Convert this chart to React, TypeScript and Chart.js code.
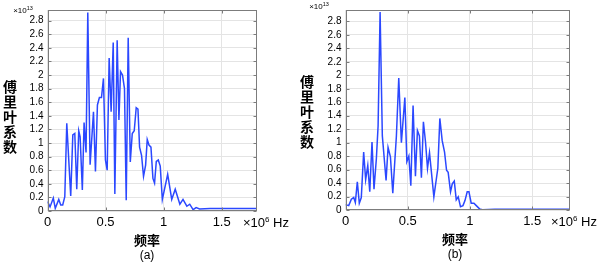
import React, { useEffect, useRef } from "react";
import Chart from "chart.js/auto";

// ---------- data ----------
const freqA = [0, 0.022, 0.05, 0.067, 0.097, 0.114, 0.131, 0.149, 0.166, 0.2, 0.218, 0.235, 0.252, 0.269, 0.281, 0.3, 0.315, 0.332, 0.347, 0.367, 0.396, 0.413, 0.43, 0.447, 0.465, 0.482, 0.499, 0.514, 0.531, 0.548, 0.566, 0.58, 0.6, 0.615, 0.629, 0.646, 0.663, 0.678, 0.695, 0.713, 0.73, 0.747, 0.764, 0.779, 0.793, 0.81, 0.827, 0.845, 0.859, 0.874, 0.891, 0.908, 0.922, 0.937, 0.954, 0.971, 0.989, 1.035, 1.07, 1.1, 1.14, 1.167, 1.2, 1.225, 1.254, 1.28, 1.31, 1.4, 1.8];
const coefA = [0.14, 0.06, 0.19, 0.04, 0.17, 0.09, 0.09, 0.21, 1.29, 0.22, 1.12, 1.14, 0.32, 1.18, 1.09, 0.31, 1.3, 0.86, 2.92, 0.68, 1.46, 0.58, 1.56, 1.67, 1.67, 1.95, 0.75, 0.6, 2.25, 1.46, 2.48, 0.25, 2.51, 1.34, 2.05, 2.0, 1.8, 0.16, 2.55, 0.72, 1.14, 1.18, 1.52, 1.5, 0.94, 0.82, 0.51, 0.675, 1.05, 0.97, 0.94, 0.48, 0.41, 0.73, 0.75, 0.66, 0.17, 0.54, 0.17, 0.32, 0.1, 0.17, 0.07, 0.1, 0.02, 0.05, 0.03, 0.035, 0.035];

const freqB = [0, 0.026, 0.047, 0.066, 0.079, 0.095, 0.111, 0.127, 0.146, 0.162, 0.179, 0.195, 0.213, 0.229, 0.248, 0.262, 0.278, 0.296, 0.326, 0.342, 0.361, 0.38, 0.409, 0.428, 0.449, 0.477, 0.493, 0.509, 0.525, 0.543, 0.562, 0.578, 0.594, 0.61, 0.626, 0.643, 0.659, 0.675, 0.71, 0.742, 0.758, 0.777, 0.796, 0.812, 0.825, 0.844, 0.858, 0.874, 0.89, 0.906, 0.924, 0.944, 0.96, 0.978, 0.992, 1.01, 1.032, 1.051, 1.077, 1.1, 1.2, 1.5, 1.8];
const coefB = [0.08, 0.065, 0.16, 0.185, 0.11, 0.42, 0.1, 0.185, 0.86, 0.45, 0.66, 0.27, 1.01, 0.31, 0.76, 1.25, 2.94, 1.1, 0.44, 0.93, 0.79, 0.25, 1.1, 1.96, 1.0, 1.67, 0.72, 0.8, 0.36, 1.55, 0.5, 1.18, 1.1, 0.48, 1.31, 1.01, 0.62, 0.85, 0.195, 0.62, 1.36, 1.03, 0.86, 0.59, 0.56, 0.27, 0.39, 0.43, 0.15, 0.195, 0.05, 0.065, 0.14, 0.27, 0.27, 0.1, 0.1, 0.065, 0.017, 0.005, 0.01, 0.012, 0.012];

const xTicks = [0, 0.5, 1, 1.5];
const yTicks = [0, 0.2, 0.4, 0.6, 0.8, 1, 1.2, 1.4, 1.6, 1.8, 2, 2.2, 2.4, 2.6, 2.8];
const yTitleChars = ["傅", "里", "叶", "系", "数"];
const xTitle = "频率";
const panelLabels = ["(a)", "(b)"];

const FONT = "Arial, 'Liberation Sans', sans-serif";
const CJK = "'Noto Sans CJK SC', sans-serif";

const framePlugin = {
  id: "frame",
  afterDraw(chart: any) {
    const { ctx, chartArea: a, scales } = chart;
    ctx.save();
    ctx.strokeStyle = "#7c7c7c";
    ctx.lineWidth = 1;
    const L = Math.round(a.left) + 0.5, R = Math.round(a.right) - 0.5;
    const T = Math.round(a.top) + 0.5, B = Math.round(a.bottom) - 0.5;
    ctx.strokeRect(L, T, R - L, B - T);
    const tl = 3;
    ctx.beginPath();
    scales.y.ticks.forEach((tk: any) => {
      const y = Math.round(scales.y.getPixelForValue(tk.value)) + 0.5;
      ctx.moveTo(L, y); ctx.lineTo(L + tl, y);
      ctx.moveTo(R, y); ctx.lineTo(R - tl, y);
    });
    scales.x.ticks.forEach((tk: any) => {
      const x = Math.round(scales.x.getPixelForValue(tk.value)) + 0.5;
      ctx.moveTo(x, B); ctx.lineTo(x, B - tl);
      ctx.moveTo(x, T); ctx.lineTo(x, T + tl);
    });
    ctx.stroke();
    ctx.restore();
  },
};

type PanelProps = {
  freq: number[];
  coef: number[];
  left: number;
  plotLeft: number;
  plotRight: number;
  plotTop: number;
  plotBottom: number;
  yMax: number;
};

function Panel({ freq, coef, left, plotLeft, plotRight, plotTop, plotBottom, yMax }: PanelProps) {
  const ref = useRef<HTMLCanvasElement | null>(null);
  const W = 299, H = 265;
  useEffect(() => {
    if (!ref.current) return;
    const chart = new Chart(ref.current, {
      type: "line",
      data: {
        datasets: [
          {
            data: freq.map((f, i) => ({ x: f, y: coef[i] })),
            borderColor: "#2b48ff",
            borderWidth: 1.5,
            pointRadius: 0,
            tension: 0,
            fill: false,
          },
        ],
      },
      options: {
        animation: false,
        responsive: false,
        devicePixelRatio: 1,
        layout: { padding: { left: 0, right: W - plotRight, top: plotTop, bottom: 0 } },
        plugins: { legend: { display: false }, tooltip: { enabled: false } },
        scales: {
          x: {
            type: "linear",
            min: 0,
            max: 1.8,
            afterBuildTicks: (s: any) => { s.ticks = xTicks.map((v) => ({ value: v })); },
            afterFit: (s: any) => { s.height = H - plotBottom; },
            grid: { color: "#e4e4e4", drawTicks: false },
            border: { display: false },
            ticks: {
              autoSkip: false,
              padding: 4,
              color: "#000",
              font: { family: FONT, size: 13 },
              maxRotation: 0,
              callback: (v: any) => String(v),
            },
          },
          y: {
            type: "linear",
            min: 0,
            max: yMax,
            afterBuildTicks: (s: any) => { s.ticks = yTicks.map((v) => ({ value: v })); },
            afterFit: (s: any) => { s.width = plotLeft; },
            grid: { color: "#e4e4e4", drawTicks: false },
            border: { display: false },
            ticks: {
              autoSkip: false,
              padding: 4,
              color: "#000",
              font: { family: FONT, size: 10 },
              callback: (v: any) => String(Number(Number(v).toFixed(1))),
            },
          },
        },
      },
      plugins: [framePlugin],
    } as any);
    return () => chart.destroy();
  }, []);
  return (
    <canvas
      ref={ref}
      width={W}
      height={H}
      style={{ position: "absolute", left, top: 0, width: W, height: H }}
    />
  );
}

function Txt({ x, y, children, style }: { x: number; y: number; children: any; style?: any }) {
  return (
    <div
      style={{
        position: "absolute",
        left: x,
        top: y,
        transform: "translate(-50%, -50%)",
        whiteSpace: "nowrap",
        lineHeight: 1,
        color: "#000",
        ...style,
      }}
    >
      {children}
    </div>
  );
}

function Decor({ yTitleX, yTitleTop, multX, multY, hzX, hzY, titleX, titleY, labY, lab }: any) {
  return (
    <>
      {yTitleChars.map((c, i) => (
        <Txt key={c} x={yTitleX} y={yTitleTop + i * 15} style={{ fontFamily: CJK, fontWeight: 700, fontSize: 14 }}>
          {c}
        </Txt>
      ))}
      <Txt x={multX} y={multY} style={{ fontFamily: FONT, fontSize: 8 }}>
        ×10<sup style={{ fontSize: 5.5, verticalAlign: "3px" }}>13</sup>
      </Txt>
      <Txt x={hzX} y={hzY} style={{ fontFamily: FONT, fontSize: 13 }}>
        ×10<sup style={{ fontSize: 8, verticalAlign: "5px" }}>6</sup> Hz
      </Txt>
      <Txt x={titleX} y={titleY} style={{ fontFamily: CJK, fontWeight: 700, fontSize: 13 }}>
        {xTitle}
      </Txt>
      <Txt x={titleX} y={labY} style={{ fontFamily: FONT, fontSize: 12 }}>
        {lab}
      </Txt>
    </>
  );
}

export default function App() {
  return (
    <div
      style={{
        position: "fixed",
        left: 0,
        top: 0,
        width: 598,
        height: 265,
        background: "#fff",
        overflow: "hidden",
      }}
    >
      <Panel freq={freqA} coef={coefA} left={0} plotLeft={47.5} plotRight={256.5} plotTop={10} plotBottom={211} yMax={2.957} />
      <Panel freq={freqB} coef={coefB} left={299} plotLeft={46.5} plotRight={270.5} plotTop={4} plotBottom={210} yMax={2.97} />
      <Decor yTitleX={10} yTitleTop={86} multX={23} multY={10} hzX={266} hzY={222} titleX={147} titleY={239} labY={255} lab={panelLabels[0]} />
      <Decor yTitleX={307} yTitleTop={81} multX={319} multY={6} hzX={574} hzY={221} titleX={455} titleY={238} labY={254} lab={panelLabels[1]} />
    </div>
  );
}
